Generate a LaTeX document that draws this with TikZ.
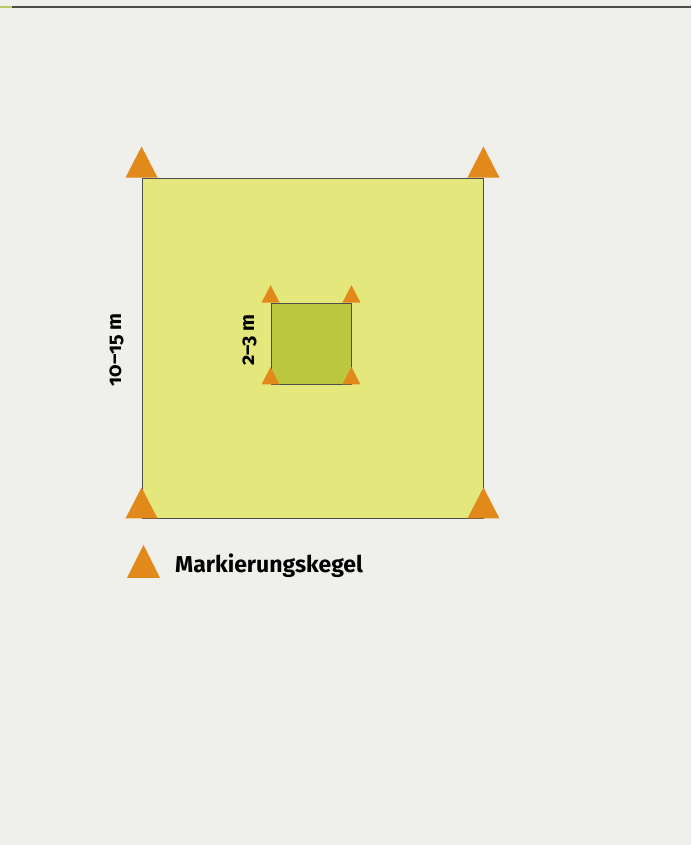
\documentclass[tikz,border=0pt]{standalone}
\usepackage{fontspec}
\setmainfont{Fira Sans}[Numbers=OldStyle]
\usepackage{xcolor}
\usetikzlibrary{positioning,calc}

\definecolor{paper}{HTML}{EFEFEC}
\definecolor{fieldfill}{HTML}{E4E77C}
\definecolor{zonefill}{HTML}{BDC63F}
\definecolor{conefill}{HTML}{E2891B}
\definecolor{rulegrey}{HTML}{4D4D4D}
\definecolor{rulegreen}{HTML}{B7CB66}

\begin{document}
\begin{tikzpicture}[
    x=1pt, y=1pt,
    field/.style={
        draw=rulegrey, line width=0.9pt, rectangle, inner sep=0pt,
        fill=fieldfill
    },
    zone/.style={field, fill=zonefill},
    cone/.style={fill=conefill},
    dimtext/.style={font=\fontsize{20}{22}\selectfont\bfseries, rotate=90, inner sep=0pt},
    keytext/.style={font=\fontsize{23}{26}\selectfont\bfseries, inner sep=0pt}
]
% Seite
\fill[paper] (0,0) rectangle (691,845);
\useasboundingbox (0,0) rectangle (691,845);
\draw[rulegrey, line width=2pt] (12,838) -- (691,838);
\draw[rulegreen, line width=2pt] (0,838) -- (12,838);

% Spielfeld und Scheibe
\node[field, minimum width=341pt, minimum height=340pt] (outer) at (312.5,497) {};
\node[zone, minimum width=80pt, minimum height=81pt] (inner) at (311,501.5) {};

% Markierungskegel an den Ecken
\foreach \c in {north west, north east, south west, south east}{
    \fill[cone] (outer.\c) ++(-16,0) -- ++(32,0) -- ++(-16,31) -- cycle;
    \fill[cone] (inner.\c) ++(-9,0) -- ++(18,0) -- ++(-9,17.5) -- cycle;
}

% Masse
\node[dimtext] (bigdim) at ([xshift=-25pt,yshift=-2pt]outer.west) {10–15 m};
\node[dimtext] (smalldim) at ([xshift=-21pt,yshift=3.5pt]inner.west) {2–3 m};

% Legende
\coordinate (key) at (143.5,267);
\fill[cone] (key) ++(-16.5,0) -- ++(33,0) -- ++(-16.5,33) -- cycle;
\node[keytext, anchor=base west] (keylabel) at (175,272) {Markierungskegel};

\end{tikzpicture}
\end{document}
